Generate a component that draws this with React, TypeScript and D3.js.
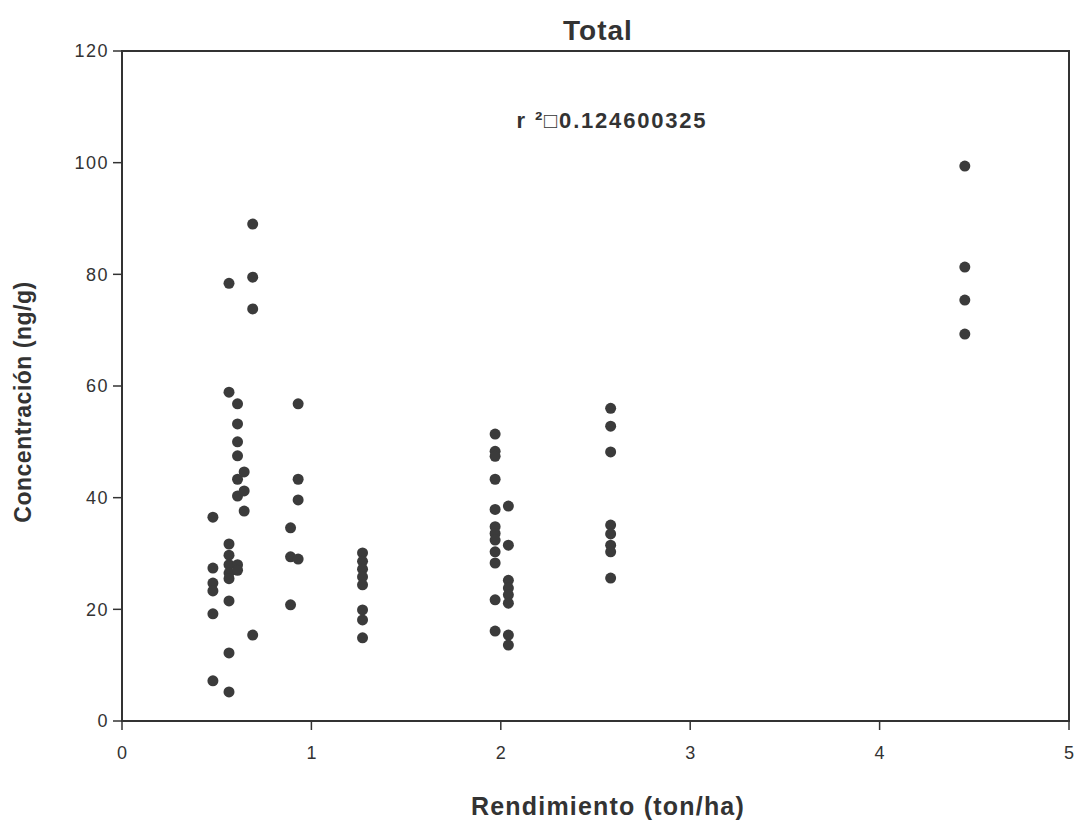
import React from "react";
import * as d3 from "d3";

const yieldLevels = [0.48, 0.565, 0.61, 0.645, 0.69, 0.89, 0.93, 1.27, 1.97, 2.04, 2.58, 4.45];
const concentrations: number[][] = [
  [36.5, 27.4, 24.7, 23.3, 19.2, 7.2],
  [78.4, 58.9, 31.7, 29.7, 28.0, 26.5, 25.5, 21.5, 12.2, 5.2],
  [56.8, 53.2, 50.0, 47.5, 43.3, 40.3, 28.0, 27.0],
  [44.6, 41.2, 37.6],
  [89.0, 79.5, 73.8, 15.4],
  [34.6, 29.4, 20.8],
  [56.8, 43.3, 39.6, 29.0],
  [30.1, 28.6, 27.2, 25.8, 24.4, 19.9, 18.1, 14.9],
  [51.4, 48.3, 47.4, 43.3, 37.9, 34.8, 33.6, 32.4, 30.3, 28.3, 21.7, 16.1],
  [38.5, 31.5, 25.2, 23.8, 22.6, 21.1, 15.4, 13.6],
  [56.0, 52.8, 48.2, 35.1, 33.5, 31.5, 30.3, 25.6],
  [99.4, 81.3, 75.4, 69.3],
];
const xTicks = [0, 1, 2, 3, 4, 5];
const yTicks = [0, 20, 40, 60, 80, 100, 120];
const titleText = "Total";
const r2Text = "r \u00B2\u25A10.124600325";
const xLabel = "Rendimiento (ton/ha)";
const yLabel = "Concentración (ng/g)";

const W = 1082;
const H = 825;
const M = { left: 122, right: 13, top: 51, bottom: 104 };
const FONT = "'Liberation Sans', Arial, sans-serif";
const INK = "#333";
const DOT = "#3b3b3b";

export default function App() {
  const x = d3.scaleLinear().domain([0, 5]).range([M.left, W - M.right]);
  const y = d3.scaleLinear().domain([0, 120]).range([H - M.bottom, M.top]);
  const points: { x: number; y: number }[] = [];
  yieldLevels.forEach((xv, i) => concentrations[i].forEach((yv) => points.push({ x: xv, y: yv })));
  const x0 = x(0), x1 = x(5), y0 = y(0), y1 = y(120);
  return (
    <svg width={W} height={H} style={{ position: "absolute", left: 0, top: 0, background: "#fff" }} fontFamily={FONT}>
      <rect width={W} height={H} fill="#fff" />
      <path d={`M${x0},${y1}H${x1}V${y0}H${x0}Z`} fill="none" stroke={INK} strokeWidth={2} />
      {yTicks.map((t) => (
        <g key={"y" + t}>
          <line x1={x0 - 9} x2={x0} y1={y(t)} y2={y(t)} stroke={INK} strokeWidth={1.5} />
          <text x={x0 - 13} y={y(t)} dy="0.35em" textAnchor="end" fontSize={18} letterSpacing={1.5} fill={INK}>{t}</text>
        </g>
      ))}
      {xTicks.map((t) => (
        <g key={"x" + t}>
          <line x1={x(t)} x2={x(t)} y1={y0} y2={y0 + 9} stroke={INK} strokeWidth={1.5} />
          <text x={x(t)} y={y0 + 38} textAnchor="middle" fontSize={18} fill={INK}>{t}</text>
        </g>
      ))}
      {points.map((p, i) => (
        <circle key={i} cx={x(p.x)} cy={y(p.y)} r={5.5} fill={DOT} />
      ))}
      <text x={598} y={40} textAnchor="middle" fontSize={28} fontWeight="bold" letterSpacing={1} fill={INK}>{titleText}</text>
      <text x={612} y={128} textAnchor="middle" fontSize={22} fontWeight="bold" letterSpacing={1.8} fill={INK}>{r2Text}</text>
      <text x={608} y={815} textAnchor="middle" fontSize={25} fontWeight="bold" letterSpacing={1.2} fill={INK}>{xLabel}</text>
      <text transform={`translate(31,402) rotate(-90)`} textAnchor="middle" fontSize={23} fontWeight="bold" letterSpacing={0.5} fill={INK}>{yLabel}</text>
    </svg>
  );
}
